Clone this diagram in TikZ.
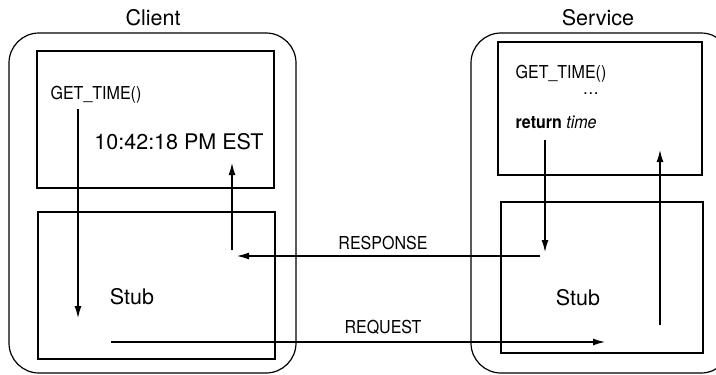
\documentclass[tikz,border=0pt]{standalone}
\usepackage{fontspec}
\setmainfont{TeX Gyre Heros}
\newfontfamily\narrowfont{TeX Gyre Heros}[FakeStretch=0.9]
\usetikzlibrary{arrows.meta, positioning}

\begin{document}
\begin{tikzpicture}[x=1pt, y=-1pt, line width=1.2pt, -{Latex[length=12pt,width=7pt]},
  big/.style={font=\fontsize{21.5}{25}\selectfont},
  small/.style={font=\narrowfont\fontsize{17.8}{20}\selectfont}]
  \useasboundingbox (0,0) rectangle (716,375);
  % machines
  \draw[-, rounded corners=30pt] (9,33) rectangle (296,373);
  \draw[-, rounded corners=30pt] (471,33) rectangle (731,373);
  \node[big] (client) at (153,18) {Client};
  \node[big] (service) at (598,18) {Service};
  % boxes
  \draw[-] (37,51) rectangle (274,188);
  \draw[-] (38,212) rectangle (275,359);
  \draw[-] (498,42) rectangle (702,175);
  \draw[-] (501,202) rectangle (703,353);
  % texts
  \node[small, anchor=west, inner sep=0] (call) at (50,95) {GET\_TIME()};
  \node[big, inner sep=0] (clock) at (179,142) {10:42:18 PM EST};
  \node[big] (cstub) at (132,297) {Stub};
  \node[small, anchor=west, inner sep=0] (proc) at (515,74) {GET\_TIME()};
  \node[small, inner sep=0] (dots) at (591,94) {\dots};
  \node[small, anchor=west, inner sep=0] (ret) at (515,122) {\textbf{return} \textit{time}};
  \node[big] (sstub) at (578,298) {Stub};
  \node[small] (resp) at (383,243) {RESPONSE};
  \node[small] (req) at (383,327) {REQUEST};
  % arrows
  \coordinate (c1) at (78,318);
  \coordinate (c2) at (232,250);
  \coordinate (c3) at (232,163);
  \coordinate (r1) at (540,256);
  \coordinate (r2) at (237,256);
  \coordinate (q1) at (111,342);
  \coordinate (q2) at (605,342);
  \coordinate (s1) at (545,140);
  \coordinate (s2) at (545,252);
  \coordinate (s3) at (660,325);
  \coordinate (s4) at (660,150);
  \draw (call.south -| c1) ++(0,5) -- (c1);
  \draw (c2) -- (c3);
  \draw (r1) -- (r2);
  \draw (q1) -- (q2);
  \draw (s1) -- (s2);
  \draw (s3) -- (s4);
\end{tikzpicture}
\end{document}
